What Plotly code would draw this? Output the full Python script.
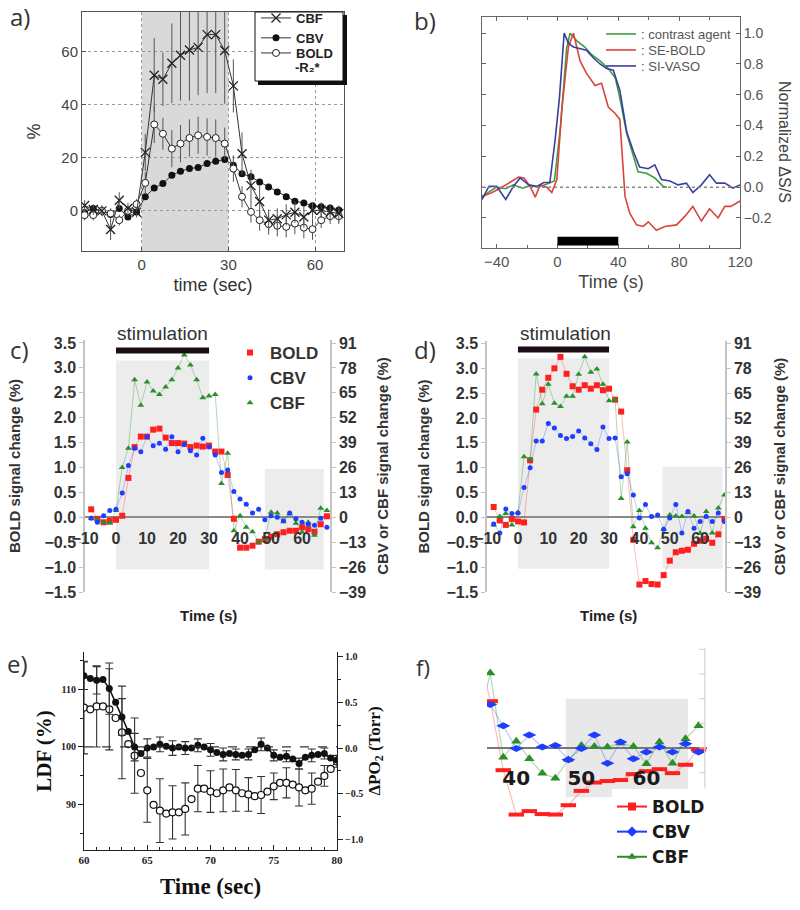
import plotly.graph_objects as go

W, H = 800, 910
def fx(p): return p / W
def fy(p): return 1 - p / H

SANS = "Liberation Sans, Arial, Helvetica, sans-serif"
SERIF = "Liberation Serif, Times New Roman, serif"
WIDE = "DejaVu Sans, Verdana, sans-serif"
LBL = "Open Sans, sans-serif"

# ---------------- panel a ----------------
A_TIME = [-19.8, -16.8, -13.8, -10.8, -7.8, -4.8, -1.8, 1.2, 4.3, 7.3, 10.4, 13.4, 16.5, 19.5, 22.6,
          25.6, 28.7, 31.7, 34.7, 37.8, 40.8, 43.9, 46.9, 50.0, 53.0, 56.1, 59.1, 62.1, 65.2, 68.2]
A_CBF = [2, 0.5, 0, -7, 4, 1, -0.5, 22, 51, 49.5, 55.5, 58.5, 60.5, 61.5, 66.3, 66.3, 60.3, 47,
         21.5, 9.5, 3.5, -3.5, -3, -1.5, -0.5, -2.3, 0.2, 0.2, -0.5, -1]
A_CBF_ERR = [2, 2, 2, 4, 3, 2, 2, 7, 14, 10, 15, 17, 19, 18, 22, 22, 20, 10, 8, 6, 6, 4, 4, 4, 4,
             4, 3, 3, 3, 3]
A_CBV = [-0.6, 0.9, 0, -1.4, 0.9, -2.3, -0.4, 5.3, 8.6, 10.3, 13.4, 14.9, 15.9, 16.3, 17.8, 18.7,
         19.3, 17.2, 14, 12.8, 10.9, 9, 7.1, 5.3, 3.6, 3, 1.9, 1.5, 1.1, 0.3]
A_BOLD = [-1.6, -1.6, 0, -1, -3.5, 0, 2.5, 10.5, 32.5, 29, 23.4, 25.3, 27.4, 28.4, 27.8, 27.4,
          25.3, 15.9, 5.3, -0.4, -3.5, -5, -5.6, -6, -4.8, -6.3, -6.9, -3.5, -2, -2]
A_BOLD_ERR = [2, 2, 2, 2, 2, 2, 2, 4, 7, 6, 7, 7, 7, 7, 7, 7, 6, 5, 4, 4, 4, 4, 4, 4, 4, 4, 4, 3, 3, 3]
A_STIM = [0, 30]

# ---------------- panel b ----------------
B_CA_T = [-49.6, -45, -40, -34, -29, -23, -18, -12.5, -7, -2, 2, 6, 8.3, 12.7, 18, 22.5, 28, 33.4,
          38, 41, 45.5, 50, 53, 58.6, 64, 69.5, 72]
B_CA = [-0.07, -0.03, 0, -0.01, 0.015, -0.007, 0.01, 0, 0.02, 0.04, 0.39, 0.9, 1.0, 0.95, 0.91,
        0.86, 0.82, 0.77, 0.71, 0.58, 0.35, 0.2, 0.1, 0.09, 0.06, 0.005, 0]
B_SE_T = [-50, -44, -37.6, -31, -25.6, -22, -18, -14.6, -11.4, -7, -3.7, -0.4, 2.8, 7.2, 10.5, 14.9,
          19, 24.7, 29, 33.4, 37.8, 41, 44.4, 47.6, 52, 56.4, 59.7, 65, 70.6, 78.3, 83.7, 89, 94.6,
          100, 105.6, 110, 114, 120]
B_SE = [-0.06, -0.04, -0.007, 0.03, 0.065, 0.06, 0.005, -0.065, 0.015, 0, -0.035, 0.05, 0.5, 0.91,
        1.0, 0.82, 0.74, 0.66, 0.675, 0.52, 0.48, 0.44, -0.06, -0.17, -0.245, -0.255, -0.225, -0.28,
        -0.255, -0.245, -0.19, -0.125, -0.22, -0.14, -0.2, -0.125, -0.125, -0.09]
B_SI_T = [-49.6, -45, -40, -34, -29, -24.5, -19, -13.5, -9, -5, -1.5, 1.3, 4.4, 7.2, 10.5, 14.9, 19,
          23.6, 28, 32.3, 36.7, 41, 45.5, 50, 54, 59.7, 64, 68.4, 73.9, 79.3, 84.8, 89, 94.6, 100,
          104.5, 110, 115.4, 120]
B_SI = [-0.08, 0.005, 0.005, -0.08, 0.005, 0.06, 0.015, 0.005, 0.03, 0.03, 0.31, 0.58, 1.0, 0.935,
        0.91, 0.9, 0.89, 0.84, 0.8, 0.77, 0.76, 0.63, 0.36, 0.23, 0.13, 0.12, 0.145, 0.05, 0.04,
        0.015, 0.026, -0.035, 0.015, 0.08, 0.026, 0.026, -0.006, 0.015]
B_STIM = [0, 40]

# ---------------- panels c, d, f ----------------
CD_TIME = [-8, -6, -4, -2, 0, 2, 4, 6, 8, 10, 12, 14, 16, 18, 20, 22, 24, 26, 28, 30, 32, 34, 36,
           38, 40, 42, 44, 46, 48, 50, 52, 54, 56, 58, 60, 62, 64, 66, 68]
C_BOLD = [0.16, -0.03, -0.1, -0.07, -0.05, 0.03, 0.79, 1.41, 1.62, 1.62, 1.76, 1.78, 1.6, 1.49,
          1.49, 1.48, 1.41, 1.44, 1.42, 1.44, 1.32, 1.32, 0.85, -0.03, -0.61, -0.61, -0.57, -0.49,
          -0.44, -0.39, -0.34, -0.3, -0.27, -0.27, -0.2, -0.24, -0.29, -0.14, 0.02]
C_CBV = [-0.5, -2.6, 0.8, 3.6, 4.2, 12.7, 27, 36.1, 34.3, 42.1, 37.4, 38.7, 35.6, 42.1, 34.3, 38,
         34.8, 32.5, 41.3, 36.7, 32.5, 23.4, 24.7, 13.5, 9.6, 6.8, 2.3, 4.2, -1.3, 0.8, 0, -1.8, 2.3,
         -0.8, -2.6, -3.6, -4.2, -0.5, -5.2]
C_CBF = [-0.5, -1.3, -2.6, -3.1, 3.6, 26, 36.1, 71.8, 58.5, 70.7, 66, 64.2, 68.1, 71.8, 78, 84.8,
         79.6, 71.8, 62.4, 63.4, 64.2, 17.7, 33.5, -7, 0.8, -5.2, -7.5, -12.7, -11.2, 2.6, 2.3, -2.3,
         1.8, -3.1, -7.8, -2.6, -9.4, 4.7, 3.6]
D_BOLD = [0.21, -0.06, -0.15, -0.03, -0.08, -0.1, 1.15, 2.17, 2.57, 2.81, 3.0, 3.23, 2.89, 2.64,
          2.57, 2.66, 2.59, 2.66, 2.56, 2.59, 2.37, 2.13, 0.95, -0.45, -1.35, -1.28, -1.34, -1.35,
          -1.16, -0.87, -0.7, -0.67, -0.65, -0.53, -0.47, -0.43, -0.51, -0.34, -0.03]
D_CBV = [-3.4, -8.1, 4.4, 2.1, 2.3, 15.6, 26, 40, 40, 49.1, 46.8, 42.9, 41.3, 42.4, 45.2, 41.6,
         38.5, 35.6, 47.3, 41.3, 41.6, 21.3, 22.9, 11.7, -0.3, 6.8, 0.5, 1.3, -6.2, -0.3, 6.8, -8.1,
         3.1, -5.7, -2.1, 0.5, -2.1, 2.3, -2.1]
D_CBF = [-3.9, 0.5, 2.1, -3.9, 2.6, 31.7, 30.4, 75.1, 59.5, 69.7, 59.8, 58, 63.4, 63.4, 74.9, 84,
         75.9, 77.7, 69.7, 61.1, 61.6, 9.9, 39.5, -4.9, 3.6, -5.7, -13.3, -15.9, -6.2, 1.3, 0.8, 0.5,
         2.6, 0.8, -8.3, 3.1, -8.1, 4.9, 11.7]
CD_STIM = [0, 30]
C_POST = [48, 67]
D_POST = [47.6, 67.4]
BOLD_TICKS = [-1.5, -1.0, -0.5, 0.0, 0.5, 1.0, 1.5, 2.0, 2.5, 3.0, 3.5]
FLOW_TICKS = [-39, -26, -13, 0, 13, 26, 39, 52, 65, 78, 91]
CD_XTICKS = [-10, 0, 10, 20, 30, 40, 50, 60]
F_XTICKS = [40, 50, 60]
F_RIGHT_TICKS = [2.0, 1.5, 1.0, 0.5, 0.0, -0.5]

# ---------------- panel e ----------------
E_TIME = [60.0, 60.5, 61.0, 61.5, 62.0, 62.5, 63.0, 63.5, 64.0, 64.5, 65.0, 65.5, 66.0, 66.5, 67.0,
          67.5, 68.0, 68.5, 69.0, 69.5, 70.0, 70.5, 71.0, 71.5, 72.0, 72.5, 73.0, 73.5, 74.0, 74.5,
          75.0, 75.5, 76.0, 76.5, 77.0, 77.5, 78.0, 78.5, 79.0, 79.5, 80.0]
E_LDF = [106.8, 106.5, 107, 107, 106.5, 105, 102.5, 100.5, 98.5, 95.5, 92.5, 90, 89, 88.5, 88.7,
         88.7, 89.3, 91, 92.8, 92.8, 92.3, 92, 92.5, 93, 92.5, 92, 91.8, 91.5, 91.7, 92.3, 93.2,
         93.8, 93.8, 93.5, 93, 92.5, 92.8, 94, 95, 96.2, 97.5]
E_PO2 = [0.79, 0.76, 0.74, 0.75, 0.65, 0.5, 0.34, 0.18, 0.01, -0.06, 0, 0.01, 0.04, 0.02, 0, 0.01,
         0, 0, 0.03, 0.01, -0.02, -0.05, -0.07, -0.06, -0.07, -0.08, -0.07, -0.02, 0.04, 0, -0.08,
         -0.1, -0.09, -0.12, -0.17, -0.1, -0.08, -0.07, -0.06, -0.11, -0.13]
E_ERR_T = [60, 61, 62, 63, 64, 65, 66, 67, 68, 69, 70, 71, 72, 73, 74, 75, 76, 77, 78, 79, 80]
E_LDF_ERR = [8, 7, 7, 8, 6.5, 5.5, 5.5, 4.6, 4.5, 4, 3.6, 3.7, 3.6, 2.9, 3.2, 2.3, 2.6, 3.2, 2.7, 1.8, 1]
E_PO2_ERR = [0.15, 0.15, 0.28, 0.2, 0.15, 0.1, 0.08, 0.08, 0.07, 0.07, 0.07, 0.07, 0.06, 0.06,
             0.07, 0.06, 0.06, 0.06, 0.07, 0.06, 0.05]

RED, BLUE, GREEN = "#ff1f1f", "#1f3dff", "#2a8f2a"
RED_L, BLUE_L, GREEN_L = "rgba(255,60,60,0.35)", "rgba(40,70,255,0.3)", "rgba(40,150,40,0.35)"

fig = go.Figure()

# ---- a traces
fig.add_trace(go.Scatter(x=A_TIME, y=A_CBV, mode="lines+markers", name="CBV", legend="legend",
                         legendrank=2, xaxis="x", yaxis="y",
                         line=dict(color="#333", width=1),
                         marker=dict(symbol="circle", size=7, color="#111")))
fig.add_trace(go.Scatter(x=A_TIME, y=A_BOLD, mode="lines+markers", name="BOLD", legend="legend5",
                         xaxis="x", yaxis="y", line=dict(color="#333", width=1),
                         error_y=dict(type="data", array=A_BOLD_ERR, color="#555", thickness=1, width=0),
                         marker=dict(symbol="circle", size=7, color="white", line=dict(color="#222", width=1))))
fig.add_trace(go.Scatter(x=A_TIME, y=A_CBF, mode="lines+markers", name="CBF", legend="legend",
                         legendrank=1, xaxis="x", yaxis="y", line=dict(color="#333", width=1),
                         error_y=dict(type="data", array=A_CBF_ERR, color="#555", thickness=1, width=0),
                         marker=dict(symbol="x-thin", size=9, color="#222", line=dict(color="#222", width=1.3))))

# ---- b traces (each in its own legend box so that rows sit tightly)
for t, v, c, n, lg in [(B_CA_T, B_CA, "#3f9f3f", ": contrast agent", "legend2"),
                       (B_SE_T, B_SE, "#d8453c", ": SE-BOLD", "legend6"),
                       (B_SI_T, B_SI, "#3a3fa0", ": SI-VASO", "legend7")]:
    fig.add_trace(go.Scatter(x=t, y=v, mode="lines", name=n, legend=lg, xaxis="x2", yaxis="y2",
                             line=dict(color=c, width=1.6)))

# ---- c, d, f traces
def add_group(xa, yl, yr, bold, cbv, cbf, legend=None, f_style=False):
    lw = 1.2 if f_style else 1
    fig.add_trace(go.Scatter(x=CD_TIME, y=cbf, mode="lines", xaxis=xa, yaxis=yr, showlegend=False,
                             line=dict(color=GREEN_L, width=lw), hoverinfo="skip"))
    fig.add_trace(go.Scatter(x=CD_TIME, y=cbv, mode="lines", xaxis=xa, yaxis=yr, showlegend=False,
                             line=dict(color=BLUE_L, width=lw), hoverinfo="skip"))
    fig.add_trace(go.Scatter(x=CD_TIME, y=bold, mode="lines", xaxis=xa, yaxis=yl, showlegend=False,
                             line=dict(color=RED_L, width=lw), hoverinfo="skip"))
    if f_style:
        ms = [dict(symbol="triangle-up", size=9, color=GREEN),
              dict(symbol="diamond-wide", size=10, color=BLUE),
              dict(symbol="line-ew", size=11, color=RED, line=dict(color=RED, width=4))]
    else:
        ms = [dict(symbol="triangle-up", size=6, color=GREEN),
              dict(symbol="circle", size=5, color=BLUE),
              dict(symbol="square", size=6, color=RED)]
    show = legend is not None and not f_style
    fig.add_trace(go.Scatter(x=CD_TIME, y=cbf, mode="markers", name="CBF", xaxis=xa, yaxis=yr,
                             marker=ms[0], showlegend=show, legend=legend or "legend", legendrank=3))
    fig.add_trace(go.Scatter(x=CD_TIME, y=cbv, mode="markers", name="CBV", xaxis=xa, yaxis=yr,
                             marker=ms[1], showlegend=show, legend=legend or "legend", legendrank=2))
    fig.add_trace(go.Scatter(x=CD_TIME, y=bold, mode="markers", name="BOLD", xaxis=xa, yaxis=yl,
                             marker=ms[2], showlegend=show, legend=legend or "legend", legendrank=1))

add_group("x3", "y3", "y4", C_BOLD, C_CBV, C_CBF, legend="legend3")
add_group("x4", "y5", "y6", D_BOLD, D_CBV, D_CBF)
add_group("x6", "y9", "y10", D_BOLD, D_CBV, D_CBF, f_style=True)
# legend entries for f
for n, c, m, rank in [("BOLD", RED, dict(symbol="square", size=8, color=RED), 1),
                      ("CBV", BLUE, dict(symbol="diamond", size=8, color=BLUE), 2),
                      ("CBF", GREEN, dict(symbol="triangle-up", size=8, color=GREEN), 3)]:
    fig.add_trace(go.Scatter(x=[None], y=[None], mode="lines+markers", name=n, legend="legend4",
                             legendrank=rank, xaxis="x6", yaxis="y9",
                             line=dict(color=c, width=2), marker=m))

# ---- e traces
e_ldf_at = [E_LDF[E_TIME.index(t)] for t in E_ERR_T]
e_po2_at = [E_PO2[E_TIME.index(t)] for t in E_ERR_T]
fig.add_trace(go.Scatter(x=E_ERR_T, y=e_ldf_at, mode="markers", xaxis="x5", yaxis="y7", showlegend=False,
                         marker=dict(size=1, color="rgba(0,0,0,0)"),
                         error_y=dict(type="data", array=E_LDF_ERR, color="#333", thickness=1.1, width=4)))
fig.add_trace(go.Scatter(x=E_ERR_T, y=e_po2_at, mode="markers", xaxis="x5", yaxis="y8", showlegend=False,
                         marker=dict(size=1, color="rgba(0,0,0,0)"),
                         error_y=dict(type="data", array=E_PO2_ERR, color="#333", thickness=1.1, width=4)))
fig.add_trace(go.Scatter(x=E_TIME, y=E_LDF, mode="markers", xaxis="x5", yaxis="y7", showlegend=False,
                         marker=dict(symbol="circle", size=7, color="white", line=dict(color="#111", width=1.2))))
fig.add_trace(go.Scatter(x=E_TIME, y=E_PO2, mode="lines+markers", xaxis="x5", yaxis="y8", showlegend=False,
                         line=dict(color="#111", width=1.5),
                         marker=dict(symbol="circle", size=7, color="#111")))

# ---------------- shapes ----------------
shapes = []
def rect(xref, yref, x0, x1, y0, y1, color, layer="below", line=None):
    shapes.append(dict(type="rect", xref=xref, yref=yref, x0=x0, x1=x1, y0=y0, y1=y1,
                       fillcolor=color, line=line or dict(width=0), layer=layer))

# a
rect("x", "y domain", A_STIM[0], A_STIM[1], 0, 1, "#d9d9d9")
rect("paper", "paper", fx(258), fx(347), fy(85), fy(15), "#111", layer="above")
rect("paper", "paper", fx(255), fx(343), fy(81), fy(12), "white", layer="above",
     line=dict(color="#111", width=1))
# b
shapes.append(dict(type="line", xref="x2 domain", yref="y2", x0=0, x1=1, y0=0, y1=0,
                   line=dict(color="#888", width=1.5, dash="dot")))
rect("x2", "y2", B_STIM[0], B_STIM[1], -0.378, -0.322, "#000", layer="above")
# c
rect("x3", "y3", CD_STIM[0], CD_STIM[1], -1.05, 3.15, "#ececec")
rect("x3", "y3", C_POST[0], C_POST[1], -1.05, 0.97, "#ececec")
rect("x3", "y3", CD_STIM[0], CD_STIM[1], 3.29, 3.41, "#1c0d16", layer="above")
# d
rect("x4", "y5", CD_STIM[0], CD_STIM[1], -1.03, 3.2, "#ececec")
rect("x4", "y5", D_POST[0], D_POST[1], -1.03, 1.02, "#ececec")
rect("x4", "y5", CD_STIM[0], CD_STIM[1], 3.32, 3.44, "#1c0d16", layer="above")
# e
shapes.append(dict(type="line", xref="x5 domain", yref="y7", x0=0, x1=1, y0=100, y1=100,
                   line=dict(color="#333", width=1.2, dash="dash")))
# f
rect("x6", "y9", D_POST[0], D_POST[1] - 1, -1.0, 1.0, "#e8e8e8")
shapes.append(dict(type="line", xref="x6 domain", yref="y9", x0=0.99, x1=0.99, y0=-0.82, y1=2.02,
                   line=dict(color="#d4d4d4", width=1.2)))
for tv in F_RIGHT_TICKS:
    shapes.append(dict(type="line", xref="x6 domain", yref="y9", x0=0.965, x1=0.995, y0=tv, y1=tv,
                       line=dict(color="#d4d4d4", width=1.2)))

# ---------------- annotations ----------------
ann = []
def text(x, y, s, size, color="#333", family=LBL, weight="normal", angle=0, xanchor="center"):
    ann.append(dict(x=fx(x), y=fy(y), xref="paper", yref="paper", text=s, showarrow=False,
                    textangle=angle, xanchor=xanchor, yanchor="middle",
                    font=dict(family=family, size=size, color=color, weight=weight)))

text(8, 16, "a)", 24, xanchor="left")
text(412, 20, "b)", 24, xanchor="left")
text(8, 349, "c)", 24, xanchor="left")
text(412, 349, "d)", 24, xanchor="left")
text(5, 663, "e)", 24, xanchor="left")
text(414, 667, "f)", 22, xanchor="left")
text(785, 142, "Normalized ΔS/S", 16, color="#444", family=SANS, angle=90)
text(162, 333, "stimulation", 19, color="#333", family=SANS)
text(565, 333, "stimulation", 19, color="#333", family=SANS)
text(208, 615, "Time (s)", 15, color="#222", family=SANS, weight="bold")
text(608, 615, "Time (s)", 15, color="#222", family=SANS, weight="bold")
text(293, 68, "-R₂*", 13, color="#222", family=SANS, weight="bold", xanchor="left")

# ---------------- axes ----------------
def tf(size, color="#333", family=SANS, weight="normal"):
    return dict(family=family, size=size, color=color, weight=weight)

bold16 = tf(16, "#333", SANS, "bold")
axes = dict(
    # a
    xaxis=dict(domain=[fx(82), fx(344)], range=[-20.7, 70], anchor="y", tickvals=[0, 30, 60],
               showgrid=True, gridcolor="#999", griddash="dot", zeroline=False, showline=True,
               mirror=True, linecolor="#555", ticks="inside", ticklen=4, tickcolor="#555",
               tickfont=tf(15, "#444"), title=dict(text="time (sec)", font=tf(18, "#333"), standoff=6)),
    yaxis=dict(domain=[fy(251), fy(12)], range=[-15.1, 74.8], anchor="x", tickvals=[0, 20, 40, 60],
               showgrid=True, gridcolor="#999", griddash="dot", zeroline=False, showline=True,
               mirror=True, linecolor="#555", ticks="inside", ticklen=4, tickcolor="#555",
               tickfont=tf(15, "#444"), title=dict(text="%", font=tf(18, "#333"), standoff=16)),
    # b
    xaxis2=dict(domain=[fx(482), fx(740)], range=[-49.6, 120], anchor="y2", tickvals=[-40, 0, 40, 80, 120],
                minor=dict(dtick=20, ticks="inside", ticklen=3, tickcolor="#666"),
                showgrid=False, zeroline=False, showline=True, mirror="ticks", linecolor="#666",
                ticks="inside", ticklen=4, tickcolor="#666", tickfont=tf(15, "#555"),
                title=dict(text="Time (s)", font=tf(18, "#444"), standoff=6)),
    yaxis2=dict(domain=[fy(248), fy(17)], range=[-0.395, 1.105], anchor="x2", side="right",
                tickvals=[-0.4, -0.2, 0.0, 0.2, 0.4, 0.6, 0.8, 1.0], tickformat=".1f",
                showgrid=False, zeroline=False, showline=True, mirror="ticks", linecolor="#666",
                ticks="inside", ticklen=4, tickcolor="#666", tickfont=tf(14, "#555")),
    # c
    xaxis3=dict(domain=[fx(85), fx(330)], range=[-10, 69], anchor="free", position=fy(527),
                tickvals=CD_XTICKS, showline=False, ticks="", showgrid=False, zeroline=False,
                tickfont=bold16),
    yaxis3=dict(domain=[fy(592), fy(340)], range=[-1.5, 3.56], anchor="x3", tickvals=BOLD_TICKS,
                tickformat=".1f", showline=True, linecolor="#c4c4c4", linewidth=1.5, ticks="outside",
                ticklen=4, tickcolor="#c4c4c4", showgrid=False, zeroline=True, zerolinecolor="#8a8a8a",
                zerolinewidth=1.5, tickfont=bold16,
                title=dict(text="BOLD signal change (%)", font=tf(15, "#333", SANS, "bold"), standoff=20)),
    yaxis4=dict(overlaying="y3", anchor="x3", side="right", range=[-39, 92.6], tickvals=FLOW_TICKS,
                showline=True, linecolor="#c4c4c4", linewidth=1.5, ticks="outside", ticklen=4,
                tickcolor="#c4c4c4", showgrid=False, zeroline=False, tickfont=bold16,
                title=dict(text="CBV or CBF signal change (%)", font=tf(15, "#333", SANS, "bold"), standoff=12)),
    # d
    xaxis4=dict(domain=[fx(487), fx(725)], range=[-10.2, 68.2], anchor="free", position=fy(527),
                tickvals=CD_XTICKS, showline=False, ticks="", showgrid=False, zeroline=False,
                tickfont=bold16),
    yaxis5=dict(domain=[fy(592), fy(341)], range=[-1.5, 3.55], anchor="x4", tickvals=BOLD_TICKS,
                tickformat=".1f", showline=True, linecolor="#c4c4c4", linewidth=1.5, ticks="outside",
                ticklen=4, tickcolor="#c4c4c4", showgrid=False, zeroline=True, zerolinecolor="#8a8a8a",
                zerolinewidth=1.5, tickfont=bold16,
                title=dict(text="BOLD signal change (%)", font=tf(15, "#333", SANS, "bold"), standoff=13)),
    yaxis6=dict(overlaying="y5", anchor="x4", side="right", range=[-39, 92.3], tickvals=FLOW_TICKS,
                showline=True, linecolor="#c4c4c4", linewidth=1.5, ticks="outside", ticklen=4,
                tickcolor="#c4c4c4", showgrid=False, zeroline=False, tickfont=bold16,
                title=dict(text="CBV or CBF signal change (%)", font=tf(15, "#333", SANS, "bold"), standoff=14)),
    # e
    xaxis5=dict(domain=[fx(84), fx(337)], range=[60, 80], anchor="y7", tickvals=[60, 65, 70, 75, 80],
                minor=dict(dtick=1, ticks="inside", ticklen=3, tickcolor="#222"),
                showgrid=False, zeroline=False, showline=True, linecolor="#222", ticks="inside",
                ticklen=5, tickcolor="#222", tickfont=tf(11, "#222", SERIF, "bold"),
                title=dict(text="Time (sec)", font=tf(23, "#111", SERIF, "bold"), standoff=12)),
    yaxis7=dict(domain=[fy(850), fy(652)], range=[82.2, 116.4], anchor="x5", tickvals=[90, 100, 110],
                minor=dict(dtick=5, ticks="outside", ticklen=3, tickcolor="#222"),
                showgrid=False, zeroline=False, showline=True, linecolor="#222", ticks="outside",
                ticklen=5, tickcolor="#222", tickfont=tf(10, "#222", SERIF, "bold"),
                title=dict(text="LDF (%)", font=tf(21, "#111", SERIF, "bold"), standoff=3)),
    yaxis8=dict(overlaying="y7", anchor="x5", side="right", range=[-1.115, 1.05],
                tickvals=[-1.0, -0.5, 0.0, 0.5, 1.0], tickformat=".1f",
                minor=dict(dtick=0.25, ticks="outside", ticklen=3, tickcolor="#222"),
                showgrid=False, zeroline=False, showline=True, linecolor="#222", ticks="outside",
                ticklen=5, tickcolor="#222", tickfont=tf(10, "#222", SERIF, "bold"),
                title=dict(text="ΔPO<sub>2</sub> (Torr)", font=tf(17, "#111", SERIF, "bold"), standoff=5)),
    # f
    xaxis6=dict(domain=[fx(487), fx(707)], range=[35.5, 69.3], anchor="free", position=fy(764),
                tickvals=F_XTICKS, showline=False, ticks="", showgrid=False, zeroline=False,
                tickfont=tf(20, "#1a1a1a", WIDE, "bold")),
    yaxis9=dict(domain=[fy(820), fy(640)], range=[-1.46, 2.19], anchor="x6", showticklabels=False,
                showline=False, ticks="", showgrid=False, zeroline=True, zerolinecolor="#777",
                zerolinewidth=1.5),
    yaxis10=dict(overlaying="y9", anchor="x6", side="right", range=[-37.96, 56.94], visible=False),
)
for k in axes:
    axes[k]["automargin"] = False

def leg(x, y, size, color, weight="normal", family=SANS, bg="rgba(0,0,0,0)"):
    return dict(x=fx(x), y=fy(y), xanchor="left", yanchor="top", bgcolor=bg,
                font=tf(size, color, family, weight), itemwidth=30, tracegroupgap=0)

lay = dict(
    width=W, height=H, margin=dict(l=0, r=0, t=0, b=0, pad=0), autosize=False,
    paper_bgcolor="white", plot_bgcolor="rgba(0,0,0,0)", showlegend=True,
    legend=leg(256, 3, 13, "#222", "bold"),
    legend5=leg(256, 38, 13, "#222", "bold"),
    legend2=leg(601, 19, 13, "#555"),
    legend6=leg(601, 35, 13, "#555"),
    legend7=leg(601, 51, 13, "#555"),
    legend3=leg(230, 335, 17, "#333", "bold"),
    legend4=leg(612, 789, 17, "#1a1a1a", "bold", WIDE, "white"),
    shapes=shapes, annotations=ann,
)
lay.update(axes)
fig.update_layout(**lay)
fig.write_html("out.html", config={"displayModeBar": False},
               post_script="document.body.style.margin='0';document.body.style.overflow='hidden';")
